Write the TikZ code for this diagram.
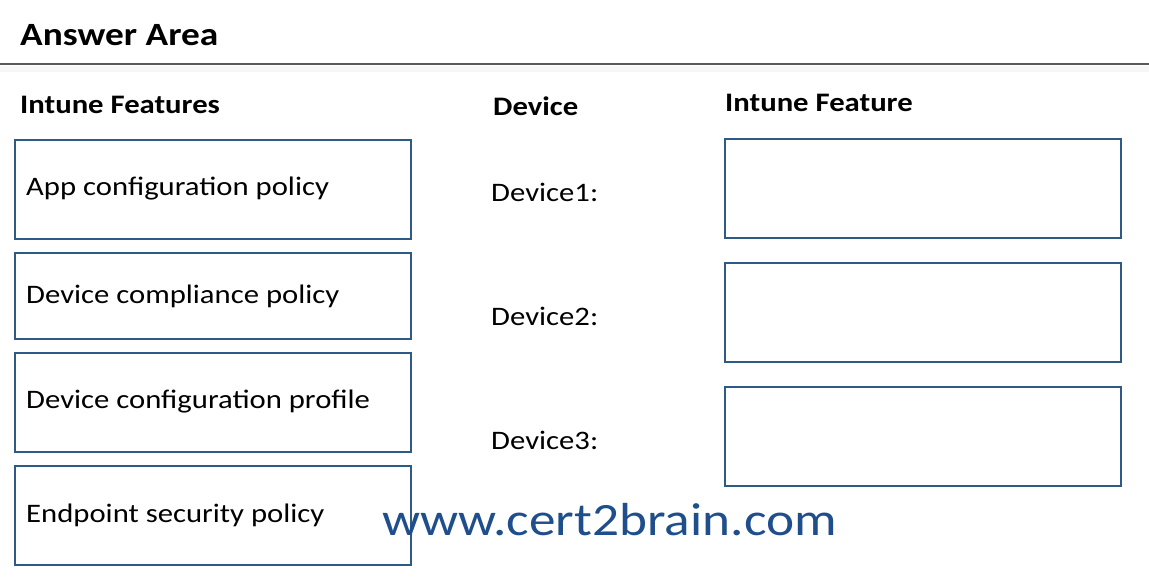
\documentclass[tikz,border=0pt]{standalone}
\usepackage{fontspec}
\setmainfont[FakeStretch=1.15]{Carlito}
\definecolor{bx}{HTML}{2E5A87}
\definecolor{wm}{HTML}{1F4E8C}
\begin{document}
\begin{tikzpicture}[x=1bp,y=-1bp,
  box/.style={draw=bx,line width=1.6bp},
  lbl/.style={anchor=west,inner sep=0,font=\fontsize{26.8}{30}\selectfont},
  hdr/.style={anchor=west,inner sep=0,font=\fontsize{26.8}{30}\selectfont\bfseries}]
\useasboundingbox (0,0) rectangle (1149,586);
\fill[black!3] (0,66) rectangle (1149,72);
\draw[line width=2.5bp,black!65] (0,64) -- (1149,64);
\node[anchor=west,inner sep=0,font=\fontsize{32.6}{36}\selectfont\bfseries] (t) at (20,35) {Answer Area};
\node[hdr] (h1) at (20,105) {Intune Features};
\node[hdr] (h2) at (493,106) {Device};
\node[hdr] (h3) at (725,103) {Intune Feature};
\draw[box] (15,140) rectangle (411,239);
\draw[box] (15,253) rectangle (411,339);
\draw[box] (15,353) rectangle (411,452);
\draw[box] (15,466) rectangle (411,565);
\node[lbl] (f1) at (26,189) {App configuration policy};
\node[lbl] (f2) at (26,296) {Device compliance policy};
\node[lbl] (f3) at (26,402) {Device configuration profile};
\node[lbl] (f4) at (26,515) {Endpoint security policy};
\node[lbl] (d1) at (491,192) {Device1:};
\node[lbl] (d2) at (491,316) {Device2:};
\node[lbl] (d3) at (491,440) {Device3:};
\draw[box] (725,139) rectangle (1121,238);
\draw[box] (725,263) rectangle (1121,362);
\draw[box] (725,387) rectangle (1121,486);
\node[anchor=west,inner sep=0,text=wm,font=\fontsize{46.5}{50}\selectfont] (w) at (382,520) {www.cert2brain.com};
\end{tikzpicture}
\end{document}
